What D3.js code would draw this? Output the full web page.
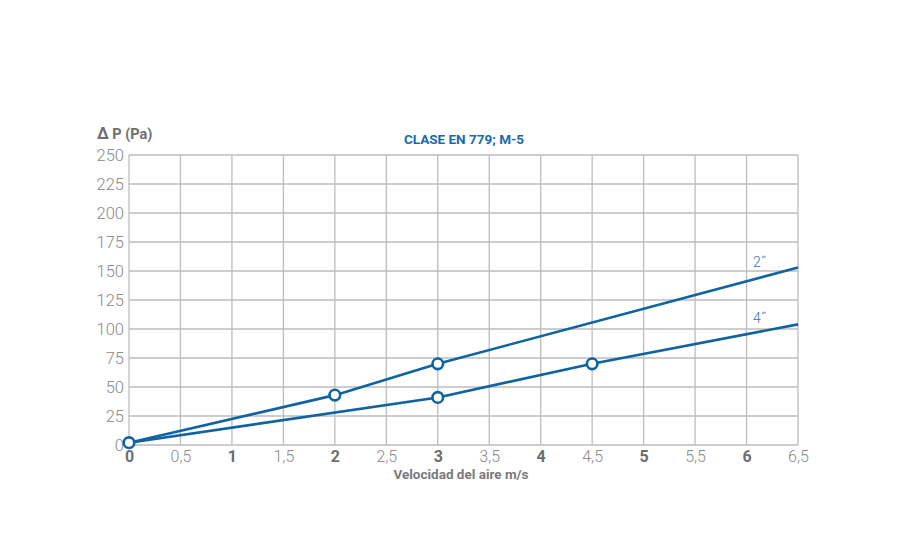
<!DOCTYPE html>
<html><head><meta charset="utf-8">
<script src="https://cdn.jsdelivr.net/npm/d3@7"></script>
<style>body{margin:0;background:#fff}svg{display:block}</style>
</head><body>
<script>
const title = "CLASE EN 779; M-5";
const yTitle = "Δ P (Pa)";
const xTitle = "Velocidad del aire m/s";
const xTicks = [0,0.5,1,1.5,2,2.5,3,3.5,4,4.5,5,5.5,6,6.5];
const yTicks = [0,25,50,75,100,125,150,175,200,225,250];
const seriesNames = ["2\u02DD","4\u02DD"];
const s2x = [0,2,3,6.5];
const s2y = [2,43,70,153];
const s2marks = [0,2,3];
const s4x = [0,3,4.5,6.5];
const s4y = [2,41,70,104];
const s4marks = [3,4.5];

const W=900,H=549;
const svg=d3.select("body").append("svg").attr("width",W).attr("height",H);
const x=d3.scaleLinear().domain([0,6.5]).range([129,798]);
const y=d3.scaleLinear().domain([0,250]).range([445,155]);
const blue="#0e63a2", grid="#bdbdbd";
const font="Roboto, 'Open Sans', sans-serif";

// grid
svg.append("g").selectAll("line").data(xTicks).join("line")
  .attr("x1",d=>x(d)).attr("x2",d=>x(d)).attr("y1",y(250)).attr("y2",y(0))
  .attr("stroke",grid).attr("stroke-width",1.3);
svg.append("g").selectAll("line").data(yTicks).join("line")
  .attr("x1",x(0)).attr("x2",x(6.5)).attr("y1",d=>y(d)).attr("y2",d=>y(d))
  .attr("stroke",grid).attr("stroke-width",1.3);

// axes labels via d3 axes
const yAxis=svg.append("g").attr("transform",`translate(${x(0)},0)`)
  .call(d3.axisLeft(y).tickValues(yTicks).tickSize(0).tickPadding(5));
yAxis.select(".domain").remove();
yAxis.selectAll("text").attr("font-family",font).attr("font-size",16.5).attr("font-weight",300).attr("fill","#8a8a8a");

const fmt=d=>String(d).replace(".",",");
const xAxis=svg.append("g").attr("transform",`translate(0,${y(0)})`)
  .call(d3.axisBottom(x).tickValues(xTicks).tickFormat(fmt).tickSize(0).tickPadding(6));
xAxis.select(".domain").remove();
xAxis.selectAll("text").attr("font-family",font).attr("font-size",16)
  .attr("font-weight",d=>Number.isInteger(d)?700:300)
  .attr("fill",d=>Number.isInteger(d)?"#6e6e6e":"#8a8a8a");

// titles
svg.append("text").attr("x",464).attr("y",144).attr("text-anchor","middle")
  .attr("font-family",font).attr("font-weight",700).attr("font-size",13.5).attr("fill","#1a6aab").text(title);
const yt=svg.append("text").attr("x",97).attr("y",139)
  .attr("font-family",font).attr("font-weight",700).attr("font-size",14.5).attr("fill","#6e6e6e");
yt.append("tspan").attr("font-size",16).text(yTitle.slice(0,1));
yt.append("tspan").text(yTitle.slice(1));
svg.append("text").attr("x",461).attr("y",479).attr("text-anchor","middle")
  .attr("font-family",font).attr("font-weight",700).attr("font-size",13.5).attr("fill","#7a7a7a").text(xTitle);

// lines
const line=d3.line().x(d=>x(d[0])).y(d=>y(d[1]));
const series=[
  {xs:s2x,ys:s2y,marks:s2marks,name:seriesNames[0]},
  {xs:s4x,ys:s4y,marks:s4marks,name:seriesNames[1]}
];
series.forEach(s=>{
  const pts=s.xs.map((v,i)=>[v,s.ys[i]]);
  svg.append("path").datum(pts).attr("d",line).attr("fill","none").attr("stroke",blue).attr("stroke-width",2.6);
});
series.forEach(s=>{
  const pts=s.xs.map((v,i)=>[v,s.ys[i]]).filter(p=>s.marks.includes(p[0]));
  svg.append("g").selectAll("circle").data(pts).join("circle")
    .attr("cx",d=>x(d[0])).attr("cy",d=>y(d[1])).attr("r",5.3)
    .attr("fill","#fff").attr("stroke",blue).attr("stroke-width",2.6);
  const last=s.xs.length-1;
  svg.append("text").attr("x",x(s.xs[last])-45).attr("y",y(s.ys[last])-1)
    .attr("font-family",font).attr("font-weight",300).attr("font-size",14).attr("fill","#2c78b8").text(s.name);
});
</script>
</body></html>
